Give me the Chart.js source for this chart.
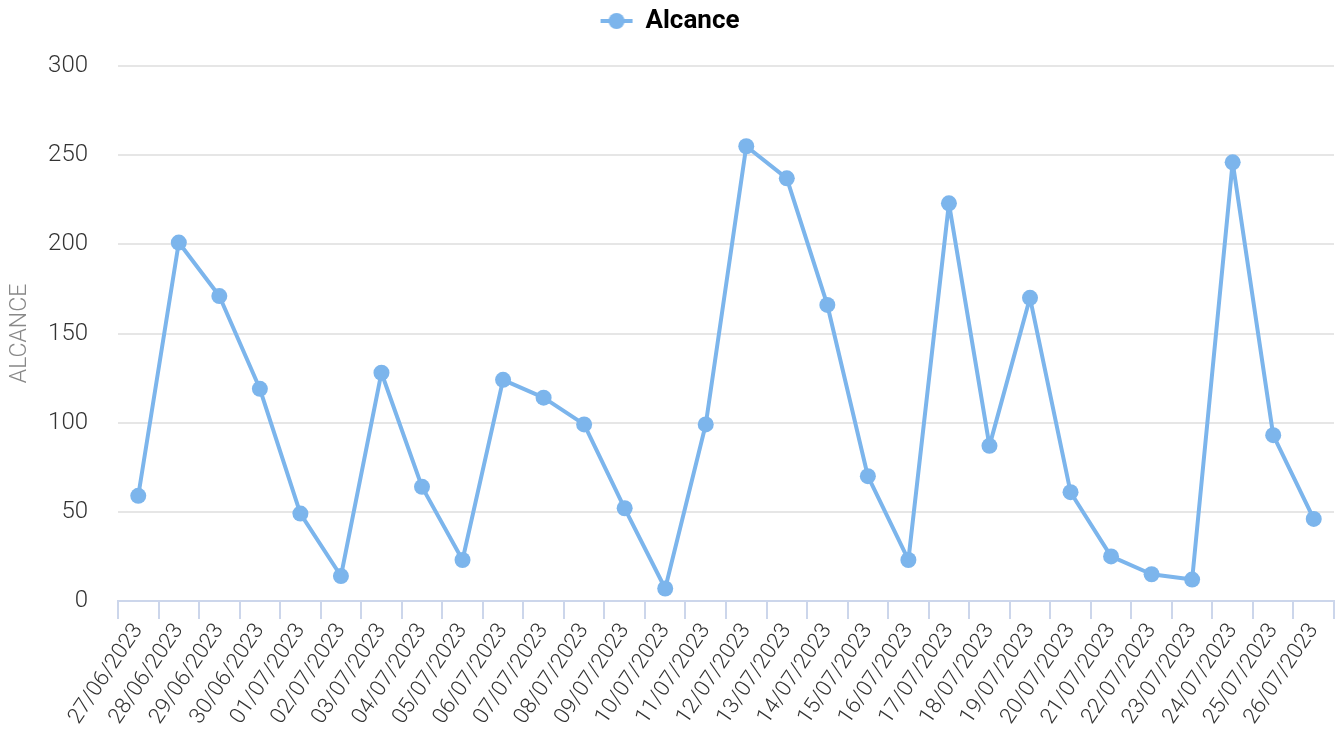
<!DOCTYPE html>
<html>
<head>
<meta charset="utf-8">
<script src="https://cdn.jsdelivr.net/npm/chart.js@4"></script>
<style>
  html, body { margin: 0; padding: 0; background: #fff; }
  #wrap { width: 1344px; height: 738px; }
</style>
</head>
<body>
<div id="wrap"><canvas id="alcanceChart"></canvas></div>
<script>
var labels = ['27/06/2023','28/06/2023','29/06/2023','30/06/2023','01/07/2023','02/07/2023',
    '03/07/2023','04/07/2023','05/07/2023','06/07/2023','07/07/2023','08/07/2023',
    '09/07/2023','10/07/2023','11/07/2023','12/07/2023','13/07/2023','14/07/2023',
    '15/07/2023','16/07/2023','17/07/2023','18/07/2023','19/07/2023','20/07/2023',
    '21/07/2023','22/07/2023','23/07/2023','24/07/2023','25/07/2023','26/07/2023'];
var alcance = [59, 201, 171, 119, 49, 14, 128, 64, 23, 124, 114, 99, 52, 7, 99,
    255, 237, 166, 70, 23, 223, 87, 170, 61, 25, 15, 12, 246, 93, 46];
var yTicks = [0, 50, 100, 150, 200, 250, 300];

var lineColor = '#7cb5ec';

// legend marker: short line with a dot, like the original
var marker = document.createElement('canvas');
marker.width = 34; marker.height = 18;
var mctx = marker.getContext('2d');
mctx.strokeStyle = lineColor;
mctx.lineWidth = 4;
mctx.beginPath(); mctx.moveTo(1, 9); mctx.lineTo(33, 9); mctx.stroke();
mctx.fillStyle = lineColor;
mctx.beginPath(); mctx.arc(17, 9, 8, 0, Math.PI * 2); mctx.fill();

// extra space under the legend
var legendMargin = {
    id: 'legendMargin',
    beforeInit: function (chart) {
        var fit = chart.legend.fit;
        chart.legend.fit = function () {
            fit.bind(chart.legend)();
            this.height += 22;
        };
    }
};

var ctx = document.getElementById('alcanceChart').getContext('2d');
var chart = new Chart(ctx, {
    type: 'line',
    plugins: [legendMargin],
    data: {
        labels: labels,
        datasets: [{
            label: 'Alcance',
            data: alcance,
            borderColor: lineColor,
            backgroundColor: lineColor,
            borderWidth: 4,
            borderJoinStyle: 'round',
            pointRadius: 8,
            pointHoverRadius: 8,
            pointBorderWidth: 0,
            tension: 0,
            fill: false
        }]
    },
    options: {
        responsive: true,
        maintainAspectRatio: false,
        animation: false,
        layout: { padding: { top: 0, right: 10, bottom: 0, left: 6 } },
        plugins: {
            legend: {
                position: 'top',
                labels: {
                    usePointStyle: true,
                    pointStyle: marker,
                    pointStyleWidth: 32,
                    color: '#000',
                    padding: 8,
                    font: { family: 'Roboto', size: 26, weight: 'bold' }
                }
            },
            tooltip: { enabled: false }
        },
        scales: {
            x: {
                offset: true,
                afterFit: function (axis) {
                    axis.paddingLeft = 0;
                    axis.height = 137;
                },
                grid: {
                    display: true,
                    drawOnChartArea: false,
                    drawTicks: true,
                    tickLength: 18,
                    color: '#ccd6eb',
                    lineWidth: 2,
                    offset: true
                },
                border: { color: '#ccd6eb', width: 2 },
                ticks: {
                    autoSkip: false,
                    maxRotation: 56,
                    minRotation: 56,
                    padding: 0,
                    color: '#333',
                    font: { family: 'Roboto', size: 22, weight: '300' }
                }
            },
            y: {
                min: 0,
                max: 300,
                afterBuildTicks: function (axis) {
                    axis.ticks = yTicks.map(function (v) { return { value: v }; });
                },
                afterFit: function (axis) {
                    axis.width = 112;
                },
                grid: {
                    color: '#e6e6e6',
                    lineWidth: 2,
                    drawTicks: false
                },
                border: { display: false },
                ticks: {
                    padding: 30,
                    color: '#333',
                    font: { family: 'Roboto', size: 24, weight: '300' }
                },
                title: {
                    display: true,
                    text: 'ALCANCE',
                    color: '#888',
                    padding: { top: 0, bottom: 0 },
                    font: { family: 'Roboto', size: 23, weight: '300' }
                }
            }
        }
    }
});
</script>
</body>
</html>
